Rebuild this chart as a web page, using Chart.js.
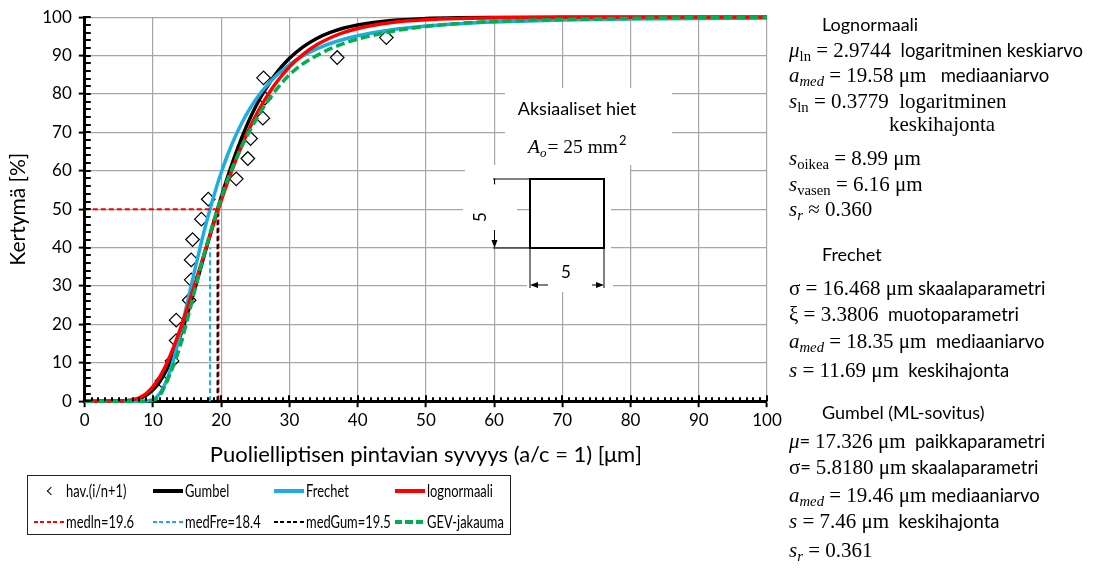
<!DOCTYPE html>
<html>
<head>
<meta charset="utf-8">
<script src="https://cdn.jsdelivr.net/npm/chart.js@4"></script>
<style>
  html, body { margin: 0; padding: 0; background: #fff; }
  #wrap { position: relative; width: 1098px; height: 568px; overflow: hidden; font-family: Lato, "Open Sans", sans-serif; color: #000; }
  #chart { position: absolute; left: 0; top: 0; }
  #legend { position: absolute; left: 27px; top: 475px; width: 482px; height: 58px; border: 1.5px solid #222; }
  .item { position: absolute; line-height: 20px; white-space: nowrap; }
  .sw { position: absolute; left: 0; width: 30px; }
  .lbl { display: inline-block; margin-left: 32px; transform-origin: left center; }
  .chev { position: absolute; left: 14px; top: 7px; width: 5px; height: 5px; border-left: 1.3px solid #000; border-top: 1.3px solid #000; transform: rotate(-45deg); }
  #panel div { position: absolute; white-space: nowrap; font-size: 18.5px; line-height: 24px; }
  #panel .h { font-size: 18px; }
  .m { font-family: "Liberation Serif", "Times New Roman", serif; font-size: 21px; }
  .i { font-style: italic; }
  sub { font-size: 70%; vertical-align: -0.28em; line-height: 0; }
</style>
</head>
<body>
<div id="wrap">
  <canvas id="chart" width="1098" height="568"></canvas>
  <div id="legend"></div>
  <div id="panel">
    <div class="h" style="left:822px;top:12px">Lognormaali</div>
    <div style="left:789px;top:38px"><span class="m"><span class="i">μ</span><sub>ln</sub> = 2.9744</span>&nbsp; logaritminen keskiarvo</div>
    <div style="left:789px;top:63px"><span class="m"><span class="i">a<sub>med</sub></span> = 19.58 μm</span>&nbsp;&nbsp; mediaaniarvo</div>
    <div style="left:789px;top:89px"><span class="m"><span class="i">s</span><sub>ln</sub> = 0.3779&nbsp; logaritminen</span></div>
    <div style="left:889px;top:112px"><span class="m">keskihajonta</span></div>
    <div style="left:789px;top:146px"><span class="m"><span class="i">s</span><sub>oikea</sub> = 8.99 μm</span></div>
    <div style="left:789px;top:172px"><span class="m"><span class="i">s</span><sub>vasen</sub> = 6.16 μm</span></div>
    <div style="left:789px;top:197px"><span class="m"><span class="i">s<sub>r</sub></span> ≈ 0.360</span></div>
    <div class="h" style="left:822px;top:242px">Frechet</div>
    <div style="left:789px;top:276px"><span class="m">σ = 16.468 μm</span> skaalaparametri</div>
    <div style="left:789px;top:302px"><span class="m">ξ = 3.3806</span>&nbsp; muotoparametri</div>
    <div style="left:789px;top:329px"><span class="m"><span class="i">a<sub>med</sub></span> = 18.35 μm</span>&nbsp; mediaaniarvo</div>
    <div style="left:789px;top:358px"><span class="m"><span class="i">s</span> = 11.69 μm</span>&nbsp; keskihajonta</div>
    <div class="h" style="left:822px;top:400px">Gumbel (ML-sovitus)</div>
    <div style="left:789px;top:429px"><span class="m i">μ</span>= <span class="m">17.326 μm</span>&nbsp; paikkaparametri</div>
    <div style="left:789px;top:455px"><span class="m">σ</span>= <span class="m">5.8180 μm</span> skaalaparametri</div>
    <div style="left:789px;top:483px"><span class="m"><span class="i">a<sub>med</sub></span> = 19.46 μm</span> mediaaniarvo</div>
    <div style="left:789px;top:509px"><span class="m"><span class="i">s</span> = 7.46 μm</span>&nbsp; keskihajonta</div>
    <div style="left:789px;top:538px"><span class="m"><span class="i">s<sub>r</sub></span> = 0.361</span></div>
  </div>
</div>
<script>
// fitted distribution curves (%)
const curveX   = [0, 5, 6, 7, 8, 9, 10, 11, 12, 13, 14, 15, 16, 17, 18, 19, 20, 21, 22, 23, 24, 25, 26, 28, 30, 32, 34, 36, 38, 40, 45, 50, 55, 60, 70, 80, 90, 100];
const gumbelY  = [0, 0.02, 0.09, 0.27, 0.70, 1.53, 2.95, 5.15, 8.22, 12.20, 17.01, 22.50, 28.48, 34.73, 41.04, 47.24, 53.18, 58.76, 63.90, 68.59, 72.80, 76.54, 79.84, 85.24, 89.29, 92.28, 94.47, 96.04, 97.18, 97.99, 99.14, 99.64, 99.85, 99.93, 99.99, 100, 100, 100];
const frechetY = [0, 0, 0, 0, 0, 0.05, 0.45, 2.00, 5.43, 10.82, 17.72, 25.40, 33.23, 40.75, 47.71, 53.99, 59.55, 64.44, 68.70, 72.39, 75.59, 78.37, 80.78, 84.69, 87.67, 89.96, 91.74, 93.15, 94.25, 95.15, 96.71, 97.69, 98.32, 98.74, 99.25, 99.52, 99.68, 99.78];
const lognormY = [0, 0.02, 0.09, 0.32, 0.89, 1.99, 3.77, 6.36, 9.76, 13.93, 18.75, 24.05, 29.67, 35.44, 41.21, 46.84, 52.25, 57.36, 62.12, 66.51, 70.51, 74.12, 77.36, 82.81, 87.07, 90.32, 92.80, 94.65, 96.04, 97.07, 98.62, 99.35, 99.69, 99.85, 99.96, 99.99, 100, 100];
const gevY     = [0, 0, 0, 0, 0, 0, 0.2, 1.5, 5.0, 9.3, 14.5, 21.0, 28.0, 35.0, 41.5, 47.5, 53.0, 58.0, 62.3, 66.3, 69.8, 73.0, 76.0, 81.0, 85.0, 87.9, 90.0, 91.8, 93.2, 94.3, 96.3, 97.6, 98.4, 98.9, 99.4, 99.7, 99.85, 99.9];

// observations hav.(i/n+1)
const obsX = [11.3, 12.8, 13.4, 13.4, 15.3, 15.6, 15.6, 15.8, 17.1, 18.1, 22.2, 23.9, 24.3, 26.1, 26.4, 26.2, 37.0, 44.2];
const obsY = [5.3, 10.5, 15.8, 21.1, 26.3, 31.6, 36.8, 42.1, 47.4, 52.6, 57.9, 63.2, 68.4, 73.7, 78.9, 84.2, 89.5, 94.7];

// median guide lines
const medLnX  = [0, 19.6, 19.6];
const medLnY  = [50, 50, 0];
const medFreX = [18.35, 18.35];
const medFreY = [0, 40];
const medGumX = [19.46, 19.46];
const medGumY = [0, 48.7];

const xTicks = [0, 10, 20, 30, 40, 50, 60, 70, 80, 90, 100];
const yTicks = [0, 10, 20, 30, 40, 50, 60, 70, 80, 90, 100];

const BLUE = '#1cade4', RED = '#ff0000', GREEN = '#00b050';
const SANS = 'Lato, "Open Sans", sans-serif';
const SERIF = '"Liberation Serif", "Times New Roman", serif';

function pts(xs, ys) {
  return xs.map((x, i) => ({ x: x, y: ys[i] }));
}

function curve(label, ys, color, dash, order) {
  return {
    label: label, data: pts(curveX, ys), showLine: true, borderColor: color,
    backgroundColor: color, borderWidth: 3.5, borderDash: dash, pointRadius: 0,
    cubicInterpolationMode: 'monotone', clip: 6, order: order,
  };
}

function guide(label, xs, ys, color, order) {
  return {
    label: label, data: pts(xs, ys), showLine: true, borderColor: color,
    backgroundColor: color, borderWidth: 2, borderDash: [5, 3], pointRadius: 0,
    tension: 0, clip: 6, order: order,
  };
}

const datasets = [
  {
    label: 'hav.(i/n+1)', data: pts(obsX, obsY), showLine: false,
    pointStyle: 'rectRot', pointRadius: 6.8, pointBorderWidth: 1.2,
    pointBorderColor: '#000', pointBackgroundColor: 'rgba(0,0,0,0)',
    borderColor: '#000', order: 8, marker: true,
  },
  curve('Gumbel', gumbelY, '#000', [], 7),
  curve('Frechet', frechetY, BLUE, [], 6),
  curve('lognormaali', lognormY, RED, [], 5),
  guide('medln=19.6', medLnX, medLnY, RED, 4),
  guide('medFre=18.4', medFreX, medFreY, BLUE, 3),
  guide('medGum=19.5', medGumX, medGumY, '#000', 2),
  curve('GEV-jakauma', gevY, GREEN, [9, 4], 1),
];

// inner tick marks (major crossing + minor)
const axisTicks = {
  id: 'axisTicks',
  afterDraw(chart) {
    const c = chart.ctx, a = chart.chartArea;
    const xs = chart.scales.x, ys = chart.scales.y;
    c.save();
    c.strokeStyle = '#000';
    c.lineWidth = 2;
    c.beginPath();
    for (let v = 0; v <= 100; v += 2) {
      const py = Math.round(ys.getPixelForValue(v));
      c.moveTo(a.left, py);
      c.lineTo(a.left + 6, py);
    }
    for (let v = 0; v <= 100; v += 1) {
      const px = Math.round(xs.getPixelForValue(v));
      const len = v % 10 === 0 ? 6 : 4;
      c.moveTo(px, a.bottom);
      c.lineTo(px, a.bottom - len);
    }
    c.stroke();
    c.restore();
  },
};

// specimen sketch inside the plot
const inset = {
  id: 'inset',
  beforeDatasetsDraw(chart) {
    const c = chart.ctx;
    c.save();
    c.fillStyle = '#fff';
    c.fillRect(505, 88, 167, 77);
    c.fillRect(465, 165, 165, 13);
    c.fillRect(463, 185, 54, 55);
    c.fillRect(530, 178, 81, 72);
    c.fillRect(527, 250, 86, 42);

    c.fillStyle = '#000';
    c.textAlign = 'center';
    c.textBaseline = 'middle';
    c.font = '18px ' + SANS;
    c.fillText('Aksiaaliset hiet', 577, 109);

    // A_o = 25 mm²
    let x = 528;
    const base = 153;
    c.textAlign = 'left';
    c.textBaseline = 'alphabetic';
    c.font = 'italic 19.5px ' + SERIF;
    c.fillText('A', x, base);
    x += c.measureText('A').width;
    c.font = 'italic 13px ' + SERIF;
    c.fillText('o', x, base + 4);
    x += c.measureText('o').width + 1;
    c.font = '19.5px ' + SERIF;
    c.fillText('= 25 mm', x, base);
    x += c.measureText('= 25 mm').width + 1;
    c.font = '13px ' + SANS;
    c.fillText('2', x, base - 8);

    // square
    c.strokeStyle = '#000';
    c.lineWidth = 2;
    c.strokeRect(530, 179, 74, 69);

    c.lineWidth = 1;
    c.beginPath();
    c.moveTo(493, 179); c.lineTo(530, 179);
    c.moveTo(493, 248); c.lineTo(530, 248);
    c.moveTo(494.5, 179); c.lineTo(494.5, 184);
    c.moveTo(494.5, 230); c.lineTo(494.5, 244);
    c.moveTo(530, 248); c.lineTo(530, 288);
    c.moveTo(604, 248); c.lineTo(604, 288);
    c.moveTo(534, 285); c.lineTo(548, 285);
    c.moveTo(592, 285); c.lineTo(600, 285);
    c.stroke();

    c.beginPath();
    c.moveTo(494.5, 248); c.lineTo(491.5, 240); c.lineTo(497.5, 240); c.closePath();
    c.moveTo(530, 285); c.lineTo(538, 282); c.lineTo(538, 288); c.closePath();
    c.moveTo(604, 285); c.lineTo(596, 282); c.lineTo(596, 288); c.closePath();
    c.fill();

    c.font = '17px ' + SANS;
    c.textAlign = 'center';
    c.textBaseline = 'middle';
    c.fillText('5', 566, 273);
    c.translate(481, 217);
    c.rotate(-Math.PI / 2);
    c.fillText('5', 0, 0);
    c.restore();
  },
};

Chart.defaults.font.family = SANS;
Chart.defaults.color = '#000';

const chart = new Chart(document.getElementById('chart'), {
  type: 'scatter',
  data: { datasets: datasets },
  options: {
    responsive: false,
    animation: false,
    layout: { padding: { left: 6, right: 331, top: 16, bottom: 100 } },
    plugins: {
      legend: { display: false },
      tooltip: { enabled: false },
    },
    scales: {
      x: {
        type: 'linear', min: 0, max: 100,
        afterBuildTicks: (s) => { s.ticks = xTicks.map(v => ({ value: v })); },
        ticks: { font: { size: 17 }, padding: 3, color: '#000' },
        grid: { color: '#a6a6a6', lineWidth: 1.2, tickColor: '#000', tickWidth: 2, tickLength: 6 },
        border: { color: '#000', width: 3 },
        title: { display: true, text: 'Puolielliptisen pintavian syvyys (a/c = 1) [μm]', font: { size: 22 }, padding: { top: 8, bottom: 0 } },
      },
      y: {
        type: 'linear', min: 0, max: 100,
        afterBuildTicks: (s) => { s.ticks = yTicks.map(v => ({ value: v })); },
        ticks: { font: { size: 17 }, padding: 7, color: '#000' },
        grid: { color: '#a6a6a6', lineWidth: 1.2, tickColor: '#000', tickWidth: 2, tickLength: 6 },
        border: { color: '#000', width: 3 },
        title: { display: true, text: 'Kertymä [%]', font: { size: 21 }, padding: { top: 0, bottom: 4 } },
      },
    },
  },
  plugins: [inset, axisTicks],
});

// legend in a 4 x 2 grid like the original
function buildLegend() {
  const box = document.getElementById('legend');
  const colLeft = [6, 125, 246, 367];
  const rowTop = [5, 36];
  chart.data.datasets.forEach((ds, i) => {
    const item = document.createElement('div');
    item.className = 'item';
    item.style.font = '17px ' + SANS;
    item.style.lineHeight = '20px';
    item.style.left = colLeft[i % 4] + 'px';
    item.style.top = rowTop[Math.floor(i / 4)] + 'px';
    const sw = document.createElement('span');
    sw.className = 'sw';
    if (ds.marker) {
      sw.innerHTML = '<span class="chev"></span>';
      sw.style.height = '20px';
    } else {
      const h = ds.borderWidth >= 3 ? 4 : 2.5;
      sw.style.top = (10 - h / 2) + 'px';
      sw.style.height = h + 'px';
      if (ds.borderDash && ds.borderDash.length) {
        const d = ds.borderDash[0] * 0.8, g = ds.borderDash[1] * 0.8;
        sw.style.background = 'repeating-linear-gradient(to right, ' + ds.borderColor + ' 0 ' + d + 'px, transparent ' + d + 'px ' + (d + g) + 'px)';
      } else {
        sw.style.background = ds.borderColor;
      }
    }
    const txt = document.createElement('span');
    txt.className = 'lbl';
    txt.textContent = ds.label;
    txt.style.transform = 'scaleX(0.76)';
    item.appendChild(sw);
    item.appendChild(txt);
    box.appendChild(item);
  });
}
buildLegend();
</script>
</body>
</html>
